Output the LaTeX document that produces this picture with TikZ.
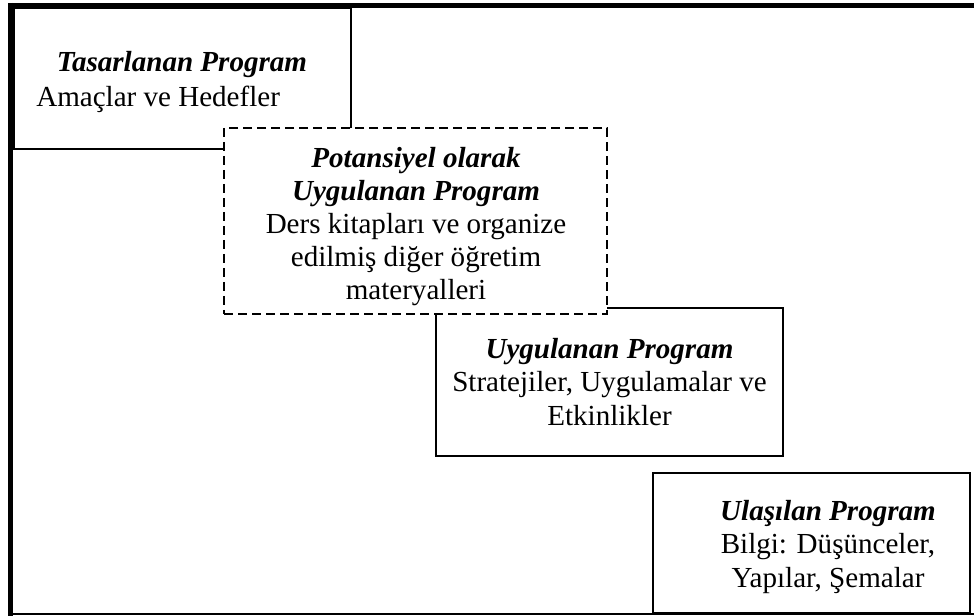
\documentclass[tikz,border=0pt]{standalone}
\usepackage{fontspec}
\setmainfont{Liberation Serif}
\usetikzlibrary{positioning}

\begin{document}
\begin{tikzpicture}[
    x=0.75pt, y=-0.75pt,
    progbox/.style={
        draw, line width=1.5pt, fill=white, inner sep=0pt
    },
    dashbox/.style={
        progbox, dash pattern=on 6.75pt off 3.75pt
    },
    titlelbl/.style={
        font=\fontsize{21.8}{24.8}\selectfont\bfseries\itshape, inner sep=0pt, anchor=base
    },
    bodylbl/.style={
        font=\fontsize{21.8}{24.8}\selectfont, align=center, inner sep=0pt, anchor=base
    }
]

% Layout: 1 unit = 1 px of the 974x616 sheet, y grows downward
% multi-line labels sit on the baseline of their last line
\useasboundingbox (0,0) rectangle (974,616);

% Solid boxes (the dashed one comes last so it covers their corners)
\node[progbox, minimum width=252.75pt, minimum height=105.75pt] (tasarlanan) at (182.5, 78.5) {};
\node[progbox, minimum width=260.25pt, minimum height=111pt] (uygulanan) at (609.5, 382) {};
\node[progbox, minimum width=237.75pt, minimum height=105pt] (ulasilan) at (811.5, 543) {};

% Potential program -- dashed, on top
\node[dashbox, minimum width=287.25pt, minimum height=139.5pt] (potansiyel) at (415.5, 221) {};

% Outer frame -- thick top and left, thin bottom, open on the right
\draw[line width=3.75pt] (8, 5.5) -- (974, 5.5);
\draw[line width=3.75pt] (10.5, 3) -- (10.5, 616);
\draw[line width=1.5pt] (8, 613.5) -- (974, 613.5);

% Texts
\node[titlelbl] (tasarlananTtl) at (182, 72) {Tasarlanan Program};
\node[bodylbl, anchor=base west] (tasarlananTxt) at (36, 107) {Amaçlar ve Hedefler};

\node[bodylbl] (potansiyelTxt) at (416, 300)
    {\textbf{\textit{Potansiyel olarak}}\\\textbf{\textit{Uygulanan Program}}\\Ders kitapları ve organize\\edilmiş diğer öğretim\\materyalleri};

\node[bodylbl] (uygulananTxt) at (609.5, 425)
    {\textbf{\textit{Uygulanan Program}}\\Stratejiler, Uygulamalar ve\\Etkinlikler};

\node[bodylbl] (ulasilanTxt) at (828, 587)
    {\textbf{\textit{Ulaşılan Program}}\\Bilgi: Düşünceler,\\Yapılar, Şemalar};

\end{tikzpicture}
\end{document}
